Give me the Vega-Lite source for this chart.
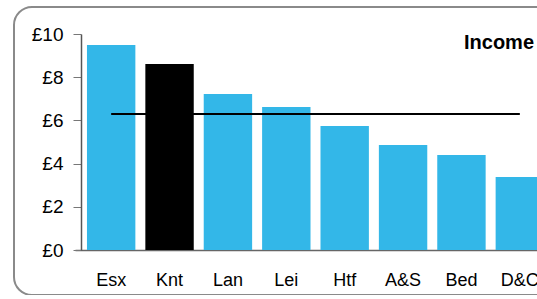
{
  "$schema": "https://vega.github.io/schema/vega-lite/v6.json",
  "autosize": "none",
  "padding": {"left": 14, "top": 7, "right": 0, "bottom": 0},
  "width": 540,
  "height": 288,
  "title": {"text": "Income", "anchor": "start", "frame": "group", "orient": "top", "offset": 0, "dx": 450, "dy": 62, "baseline": "alphabetic", "fontSize": 20, "fontWeight": "bold", "font": "Liberation Sans", "color": "#000000"},
  "data": {"values": [
    {"area": "Esx", "income": 9.49, "avg": 6.3, "hl": "n"},
    {"area": "Knt", "income": 8.61, "avg": 6.3, "hl": "y"},
    {"area": "Lan", "income": 7.22, "avg": 6.3, "hl": "n"},
    {"area": "Lei", "income": 6.62, "avg": 6.3, "hl": "n"},
    {"area": "Htf", "income": 5.74, "avg": 6.3, "hl": "n"},
    {"area": "A&S", "income": 4.86, "avg": 6.3, "hl": "n"},
    {"area": "Bed", "income": 4.40, "avg": 6.3, "hl": "n"},
    {"area": "D&C", "income": 3.38, "avg": 6.3, "hl": "n"}
  ]},
  "encoding": {
    "x": {"field": "area", "type": "nominal", "sort": null,
      "scale": {"range": [61, 542], "paddingInner": 0.171, "paddingOuter": 0.205},
      "axis": {"title": null, "orient": "bottom", "offset": -45, "ticks": false, "labelPadding": 21, "labelAngle": 0, "labelFontSize": 18, "labelFont": "Liberation Sans", "labelColor": "#000000", "domainColor": "#666666", "domainWidth": 1.5, "grid": false}}
  },
  "layer": [
    {
      "mark": {"type": "bar"},
      "encoding": {
        "y": {"field": "income", "type": "quantitative",
          "scale": {"domain": [0, 10], "range": [243, 27], "nice": false, "zero": true},
          "axis": {"title": null, "offset": -67, "values": [0, 2, 4, 6, 8, 10], "labelExpr": "'£' + datum.value", "tickSize": 8, "tickColor": "#777777", "domainColor": "#555555", "domainWidth": 1.5, "labelPadding": 10, "labelFontSize": 19, "labelFont": "Liberation Sans", "labelColor": "#000000", "grid": false}},
        "color": {"field": "hl", "type": "nominal", "scale": {"domain": ["n", "y"], "range": ["#33b7e8", "#000000"]}, "legend": null}
      }
    },
    {
      "mark": {"type": "line", "color": "#000000", "strokeWidth": 2},
      "encoding": {
        "y": {"field": "avg", "type": "quantitative"}
      }
    }
  ],
  "config": {
    "view": {"stroke": "#8a8a8a", "strokeWidth": 2, "cornerRadius": 18},
    "font": "Liberation Sans"
  }
}
